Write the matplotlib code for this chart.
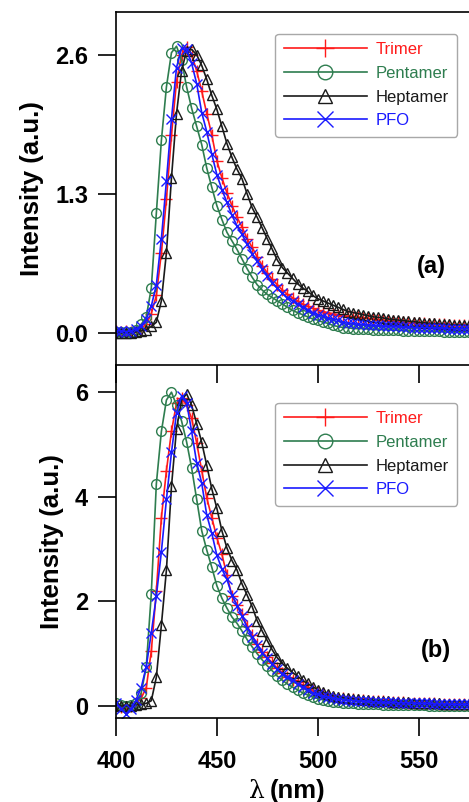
import numpy as np
import matplotlib
matplotlib.use("Agg")
from matplotlib import pyplot as plt

plt.rcParams['font.family'] = ['Liberation Sans', 'DejaVu Sans']

# wavelength grid (nm)
wl = [400, 402.5, 405, 407.5, 410, 412.5, 415, 417.5, 420, 422.5,
      425, 427.5, 430, 432.5, 435, 437.5, 440, 442.5, 445, 447.5,
      450, 452.5, 455, 457.5, 460, 462.5, 465, 467.5, 470, 472.5,
      475, 477.5, 480, 482.5, 485, 487.5, 490, 492.5, 495, 497.5,
      500, 502.5, 505, 507.5, 510, 512.5, 515, 517.5, 520, 522.5,
      525, 527.5, 530, 532.5, 535, 537.5, 540, 542.5, 545, 547.5,
      550, 552.5, 555, 557.5, 560, 562.5, 565, 567.5, 570, 572.5, 575]

# panel (a)
trimer_a = [0.02, 0.01, 0.02, 0.01, 0.02, 0.04, 0.08, 0.18, 0.35, 0.75,
            1.25, 1.85, 2.35, 2.60, 2.67, 2.60, 2.45, 2.26, 2.05, 1.85,
            1.61, 1.45, 1.31, 1.19, 1.08, 0.99, 0.88, 0.80, 0.71, 0.63,
            0.56, 0.50, 0.45, 0.40, 0.36, 0.33, 0.30, 0.27, 0.25, 0.23,
            0.21, 0.20, 0.19, 0.18, 0.17, 0.16, 0.155, 0.15, 0.145, 0.14,
            0.135, 0.13, 0.125, 0.12, 0.115, 0.11, 0.105, 0.10, 0.10, 0.095,
            0.09, 0.09, 0.085, 0.085, 0.08, 0.08, 0.075, 0.075, 0.07, 0.07, 0.07]
pentamer_a = [0.01, 0.01, 0.01, 0.01, 0.03, 0.08, 0.15, 0.42, 1.12, 1.80,
              2.30, 2.62, 2.68, 2.55, 2.30, 2.10, 1.93, 1.76, 1.54, 1.36,
              1.19, 1.06, 0.94, 0.86, 0.78, 0.69, 0.60, 0.52, 0.45, 0.40,
              0.36, 0.33, 0.30, 0.27, 0.24, 0.21, 0.19, 0.17, 0.15, 0.13,
              0.12, 0.10, 0.09, 0.07, 0.06, 0.05, 0.05, 0.04, 0.04, 0.04,
              0.035, 0.03, 0.03, 0.03, 0.03, 0.025, 0.025, 0.02, 0.02, 0.02,
              0.02, 0.02, 0.015, 0.015, 0.015, 0.01, 0.01, 0.01, 0.01, 0.01, 0.01]
heptamer_a = [0.00, 0.00, 0.00, 0.00, 0.01, 0.02, 0.03, 0.06, 0.10, 0.30,
              0.75, 1.45, 2.05, 2.45, 2.64, 2.65, 2.60, 2.50, 2.37, 2.22,
              2.09, 1.93, 1.77, 1.64, 1.53, 1.44, 1.30, 1.17, 1.08, 0.98,
              0.88, 0.78, 0.68, 0.61, 0.56, 0.51, 0.46, 0.42, 0.39, 0.35,
              0.32, 0.30, 0.28, 0.26, 0.24, 0.22, 0.20, 0.19, 0.18, 0.17,
              0.16, 0.15, 0.145, 0.14, 0.13, 0.125, 0.12, 0.115, 0.11, 0.105,
              0.10, 0.095, 0.09, 0.09, 0.085, 0.08, 0.08, 0.075, 0.075, 0.07, 0.07]
pfo_a = [0.02, 0.02, 0.01, 0.02, 0.04, 0.06, 0.13, 0.25, 0.45, 0.88,
         1.42, 2.00, 2.48, 2.66, 2.65, 2.52, 2.33, 2.06, 1.88, 1.67,
         1.48, 1.34, 1.22, 1.10, 1.00, 0.92, 0.83, 0.74, 0.67, 0.60,
         0.53, 0.47, 0.42, 0.37, 0.33, 0.30, 0.27, 0.24, 0.21, 0.19,
         0.17, 0.16, 0.14, 0.13, 0.12, 0.10, 0.09, 0.09, 0.08, 0.08,
         0.075, 0.07, 0.07, 0.065, 0.06, 0.06, 0.06, 0.055, 0.055, 0.05,
         0.05, 0.05, 0.05, 0.045, 0.045, 0.045, 0.04, 0.04, 0.04, 0.04, 0.04]

# panel (b)
trimer_b = [0.03, -0.02, -0.03, 0.00, 0.05, 0.15, 0.35, 1.05, 2.20, 3.60,
            4.50, 5.25, 5.79, 5.88, 5.75, 5.50, 5.03, 4.50, 3.98, 3.60,
            3.22, 2.90, 2.50, 2.10, 1.94, 1.75, 1.53, 1.35, 1.18, 1.03,
            0.93, 0.82, 0.72, 0.63, 0.55, 0.49, 0.45, 0.40, 0.36, 0.30,
            0.26, 0.23, 0.20, 0.18, 0.16, 0.15, 0.14, 0.13, 0.12, 0.11,
            0.10, 0.10, 0.09, 0.09, 0.08, 0.08, 0.07, 0.07, 0.06, 0.06,
            0.06, 0.05, 0.05, 0.05, 0.04, 0.04, 0.04, 0.04, 0.03, 0.03, 0.03]
pentamer_b = [0.05, 0.02, 0.00, 0.02, 0.05, 0.25, 0.75, 2.15, 4.25, 5.25,
              5.85, 6.00, 5.75, 5.45, 5.05, 4.55, 3.95, 3.35, 2.98, 2.65,
              2.30, 2.06, 1.87, 1.70, 1.58, 1.43, 1.27, 1.13, 1.00, 0.88,
              0.77, 0.67, 0.57, 0.49, 0.42, 0.36, 0.31, 0.25, 0.21, 0.17,
              0.14, 0.12, 0.10, 0.08, 0.07, 0.06, 0.05, 0.05, 0.04, 0.04,
              0.03, 0.03, 0.03, 0.02, 0.02, 0.02, 0.02, 0.01, 0.01, 0.01,
              0.01, 0.01, 0.00, 0.00, 0.00, 0.00, 0.00, 0.00, 0.00, 0.00, 0.00]
heptamer_b = [0.02, 0.00, 0.00, 0.00, 0.02, 0.03, 0.05, 0.10, 0.55, 1.55,
              2.60, 4.20, 5.30, 5.85, 5.97, 5.75, 5.40, 5.04, 4.60, 4.15,
              3.78, 3.35, 3.02, 2.78, 2.60, 2.33, 2.12, 1.90, 1.63, 1.43,
              1.25, 1.07, 0.92, 0.81, 0.72, 0.64, 0.57, 0.49, 0.43, 0.37,
              0.31, 0.27, 0.23, 0.20, 0.18, 0.16, 0.15, 0.14, 0.13, 0.12,
              0.11, 0.10, 0.10, 0.09, 0.09, 0.08, 0.08, 0.07, 0.07, 0.06,
              0.06, 0.06, 0.05, 0.05, 0.05, 0.04, 0.04, 0.04, 0.04, 0.03, 0.03]
pfo_b = [0.05, -0.05, -0.15, -0.05, 0.12, 0.35, 0.75, 1.40, 2.10, 2.95,
         3.95, 4.85, 5.60, 5.92, 5.80, 5.25, 4.65, 4.26, 3.65, 3.30,
         2.88, 2.62, 2.42, 2.12, 1.92, 1.72, 1.50, 1.32, 1.17, 1.02,
         0.91, 0.80, 0.70, 0.62, 0.56, 0.49, 0.42, 0.36, 0.30, 0.25,
         0.22, 0.19, 0.17, 0.15, 0.13, 0.12, 0.11, 0.10, 0.10, 0.09,
         0.09, 0.08, 0.08, 0.07, 0.07, 0.07, 0.06, 0.06, 0.06, 0.05,
         0.05, 0.05, 0.05, 0.04, 0.04, 0.04, 0.04, 0.03, 0.03, 0.03, 0.03]

names = ['Trimer', 'Pentamer', 'Heptamer', 'PFO']
colors = ['#ff1a1a', '#2e7d4f', '#1a1a1a', '#1a1aff']
markers = ['+', 'o', '^', 'x']
msizes = [9, 7, 6.5, 7.5]

fig = plt.figure(figsize=(4.69, 8.02), dpi=100)
W, H = 469.0, 802.0
ax1 = fig.add_axes([116 / W, 1 - 365 / H, 1 - 116 / W, (365 - 12) / H])
ax2 = fig.add_axes([116 / W, 1 - 718 / H, 1 - 116 / W, (718 - 365) / H])
ax2.patch.set_visible(False)
ax1.set_zorder(2)
ax1.patch.set_visible(False)


def draw(ax, series, yticks, ylim, label_pos, tag, legend_top):
    for ys, name, c, m, ms in zip(series, names, colors, markers, msizes):
        ax.plot(wl, ys, color=c, lw=1.2, marker=m, ms=ms, mfc='none',
                mec=c, mew=1.0, label=name, clip_on=True)
    ax.set_xlim(400, 575)
    ax.set_ylim(*ylim)
    ax.set_xticks([400, 450, 500, 550])
    ax.set_yticks(yticks)
    ax.spines['right'].set_visible(False)
    for s in ax.spines.values():
        s.set_linewidth(1.2)
    ax.tick_params(direction='out', length=13, width=1.2, pad=7,
                   labelsize=17)
    ax.tick_params(axis='x', pad=10)
    for t in ax.get_xticklabels() + ax.get_yticklabels():
        t.set_fontweight('bold')
    ax.set_ylabel('Intensity (a.u.)', fontsize=18.5, fontweight='bold',
                  labelpad=8)
    ax.text(label_pos[0], label_pos[1], tag, transform=fig.transFigure,
            fontsize=17, fontweight='bold', ha='center', va='center')
    leg = ax.legend(loc='upper right', bbox_to_anchor=(457 / W, 1 - legend_top / H),
                    bbox_transform=fig.transFigure, borderaxespad=0,
                    fontsize=12, handlelength=5.0, handletextpad=0.5,
                    labelspacing=0.52, borderpad=0.5, markerscale=1.5,
                    fancybox=True, framealpha=1, edgecolor='#a8a8a8')
    leg.get_frame().set_linewidth(1.0)
    for txt, c in zip(leg.get_texts(), colors):
        txt.set_color(c)


draw(ax1, [trimer_a, pentamer_a, heptamer_a, pfo_a], [0.0, 1.3, 2.6],
     (-0.3, 3.0), (431 / W, 1 - 266 / H), '(a)', 34)
ax1.set_yticklabels(['0.0', '1.3', '2.6'])
ax1.tick_params(axis='x', labelbottom=False)

draw(ax2, [trimer_b, pentamer_b, heptamer_b, pfo_b], [0, 2, 4, 6],
     (-0.23, 6.52), (436 / W, 1 - 651 / H), '(b)', 403)
ax2.spines['top'].set_visible(False)

# x label: lambda in a serif face, unit in bold
fig.text(265 / W, 1 - 791 / H, 'λ', family='DejaVu Serif', fontsize=18,
         ha='right', va='center')
fig.text(270 / W, 1 - 791 / H, '(nm)', fontsize=18.5, fontweight='bold',
         ha='left', va='center')

fig.savefig('out.png', dpi=100)
